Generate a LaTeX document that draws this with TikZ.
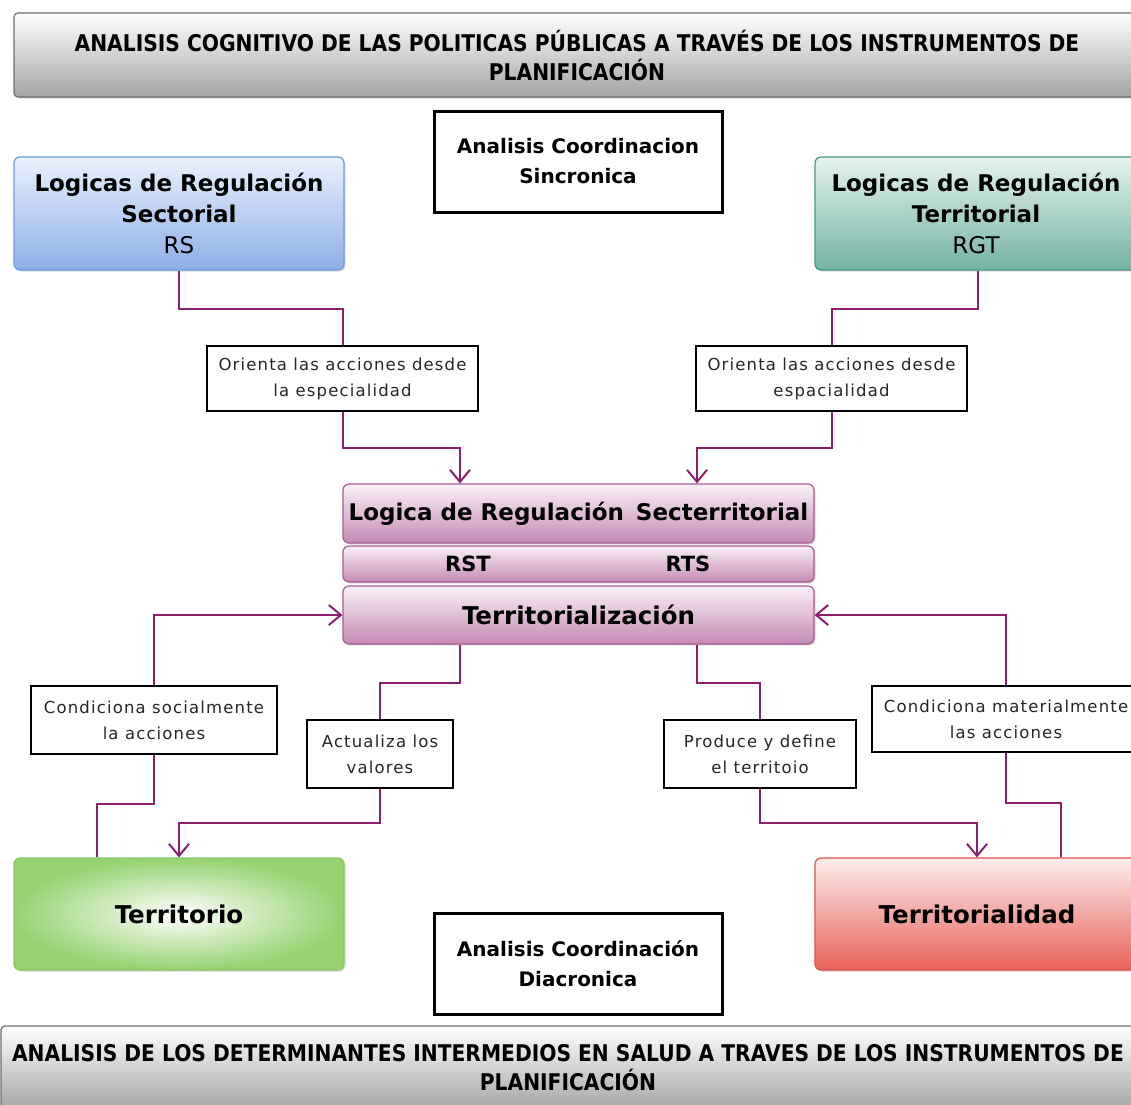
\documentclass[tikz,border=0pt]{standalone}
\usepackage{fontspec}
\setmainfont{DejaVu Sans}
\newfontfamily\banfam[FakeStretch=0.88]{DejaVu Sans}
\newfontfamily\boxfam{DejaVu Sans}
\newfontfamily\lblfam[LetterSpace=7]{DejaVu Sans}
\usetikzlibrary{arrows.meta,shadows,calc}
\definecolor{connc}{HTML}{8B1F6E}
\definecolor{banB}{HTML}{A4A4A4}
\definecolor{banD}{HTML}{6E6E6E}
\definecolor{blueT}{HTML}{EAF1FD}
\definecolor{blueB}{HTML}{8DAEE6}
\definecolor{blueD}{HTML}{6F9BE0}
\definecolor{tealT}{HTML}{E6F3EE}
\definecolor{tealB}{HTML}{72B2A2}
\definecolor{tealD}{HTML}{46988A}
\definecolor{purT}{HTML}{FAF0F7}
\definecolor{purB}{HTML}{C48AB4}
\definecolor{purD}{HTML}{A85C95}
\definecolor{grnO}{HTML}{96D270}
\definecolor{grnD}{HTML}{88C760}
\definecolor{redT}{HTML}{FCEDEC}
\definecolor{redB}{HTML}{E8615A}
\definecolor{redD}{HTML}{E0504C}
\tikzset{
  banner/.style={draw=banD, line width=1.2pt, rounded corners=4pt, top color=white, bottom color=banB,
    inner sep=0pt, align=center, font=\banfam\bfseries\fontsize{23}{29}\selectfont,
    drop shadow={shadow xshift=1.5pt, shadow yshift=-1.5pt, opacity=0.35}},
  coord/.style={draw=black, line width=3pt, fill=white, inner sep=0pt, align=center,
    font=\boxfam\bfseries\fontsize{20}{30}\selectfont},
  bigbox/.style={line width=1.2pt, rounded corners=6pt, inner sep=0pt, align=center,
    font=\boxfam\bfseries\fontsize{23}{31}\selectfont,
    drop shadow={shadow xshift=1.5pt, shadow yshift=-1.5pt, opacity=0.3}},
  bigtxt/.style={font=\boxfam\bfseries\fontsize{24.5}{31}\selectfont},
  purbox/.style={bigbox, draw=purD, top color=purT, bottom color=purB, minimum width=471pt},
  lbl/.style={draw=black, line width=1.2pt, fill=white, inner sep=0pt, align=center,
    text=black!85, font=\lblfam\fontsize{16.5}{26}\selectfont},
  conn/.style={draw=connc, line width=2pt},
  arr/.style={conn, -{Straight Barb[length=12pt,width=20pt]}}
}
\begin{document}
\begin{tikzpicture}[x=1pt,y=-1pt]
\useasboundingbox (0,0) rectangle (1131,1104);
\clip (0,0) rectangle (1131,1104);
% banners
\node[banner, minimum width=1126pt, minimum height=84pt] (top) at (577,55)
  {ANALISIS COGNITIVO DE LAS POLITICAS PÚBLICAS A TRAVÉS DE LOS INSTRUMENTOS DE\\PLANIFICACIÓN};
\node[banner, minimum width=1134pt, minimum height=84pt] (bot) at (568,1068)
  {ANALISIS DE LOS DETERMINANTES INTERMEDIOS EN SALUD A TRAVES DE LOS INSTRUMENTOS DE\\PLANIFICACIÓN};
% coordination boxes
\node[coord, minimum width=288pt, minimum height=101pt] (sync) at (578,161.5)
  {Analisis Coordinacion\\Sincronica};
\node[coord, minimum width=288pt, minimum height=101pt] (dia) at (578,963.5)
  {Analisis Coordinación\\Diacronica};
% top boxes
\node[bigbox, draw=blueD, top color=blueT, bottom color=blueB, minimum width=330pt, minimum height=113pt] (rs) at (179,213.5)
  {Logicas de Regulación\\Sectorial\\\mdseries RS};
\node[bigbox, draw=tealD, top color=tealT, bottom color=tealB, minimum width=322pt, minimum height=113pt] (rgt) at (976,213.5)
  {Logicas de Regulación\\Territorial\\\mdseries RGT};
% labels
\node[lbl, minimum width=271pt, minimum height=65pt] (lab1) at (342.5,378.5)
  {Orienta las acciones desde\\la especialidad};
\node[lbl, minimum width=271pt, minimum height=65pt] (lab2) at (831.5,378.5)
  {Orienta las acciones desde\\espacialidad};
% purple stack
\node[purbox, minimum height=59pt] (p1) at (578.5,513.5) {Logica de Regulación\hspace{4pt} Secterritorial};
\node[purbox, minimum height=36pt] (p2) at (578.5,564) {};
\node[font=\boxfam\bfseries\fontsize{21}{24}\selectfont] (rst) at (468,564) {RST};
\node[font=\boxfam\bfseries\fontsize{21}{24}\selectfont] (rts) at (688,564) {RTS};
\node[purbox, bigtxt, minimum height=58pt] (p3) at (578.5,615) {Territorialización};
% lower labels
\node[lbl, minimum width=246pt, minimum height=68pt] (cs) at (154,720)
  {Condiciona socialmente\\la acciones};
\node[lbl, minimum width=146pt, minimum height=68pt] (act) at (380,754)
  {Actualiza los\\valores};
\node[lbl, minimum width=192pt, minimum height=68pt] (prod) at (760,754)
  {Produce y define\\el territoio};
\node[lbl, minimum width=268pt, minimum height=66pt] (cm) at (1006,719)
  {Condiciona materialmente\\las acciones};
% bottom boxes
\node[bigbox, bigtxt, draw=grnD, inner color=white, outer color=grnO, minimum width=330pt, minimum height=112pt] (terr) at (179,914)
  {Territorio};
\node[bigbox, bigtxt, draw=redD, top color=redT, bottom color=redB, minimum width=324pt, minimum height=112pt] (terrd) at (977,914)
  {Territorialidad};
% connectors
\draw[conn] (rs.south) -- ++(0,38) -| (lab1.north);
\draw[arr] (lab1.south) -- ++(0,36) -| ([xshift=-118.5pt]p1.north);
\draw[conn] ([xshift=2pt]rgt.south) -- ++(0,38) -| (lab2.north);
\draw[arr] (lab2.south) -- ++(0,36) -| ([xshift=118.5pt]p1.north);
\draw[conn] ([xshift=-82pt]terr.north) -- ++(0,-53) -| (cs.south);
\draw[arr] (cs.north) |- (p3.west);
\draw[conn] ([xshift=-118.5pt]p3.south) -- ++(0,38) -| (act.north);
\draw[arr] (act.south) -- ++(0,34) -| (terr.north);
\draw[conn] ([xshift=118.5pt]p3.south) -- ++(0,38) -| (prod.north);
\draw[arr] (prod.south) -- ++(0,34) -| (terrd.north);
\draw[conn] ([xshift=84pt]terrd.north) -- ++(0,-54) -| (cm.south);
\draw[arr] (cm.north) |- (p3.east);
\end{tikzpicture}
\end{document}
